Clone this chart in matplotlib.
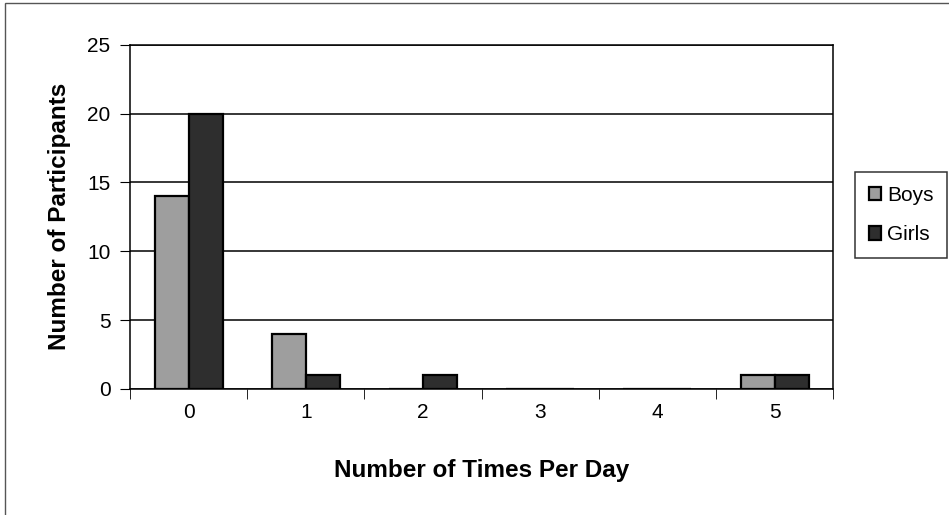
import matplotlib.pyplot as plt
import numpy as np
from matplotlib.patches import Rectangle

times = ['0', '1', '2', '3', '4', '5']
boys = [14, 4, 0, 0, 0, 1]
girls = [20, 1, 1, 0, 0, 1]

plt.rcParams['font.family'] = ['Liberation Sans', 'DejaVu Sans']

fig = plt.figure(figsize=(9.49, 5.15), dpi=100)
ax = fig.add_axes([0.137, 0.245, 0.741, 0.668])

x = np.arange(len(times))
w = 0.29
ax.bar(x - w / 2, boys, w, color='#9e9e9e', edgecolor='black', linewidth=1.6, label='Boys')
ax.bar(x + w / 2, girls, w, color='#2e2e2e', edgecolor='black', linewidth=1.6, label='Girls')

ax.set_xlim(-0.5, 5.5)
ax.set_ylim(0, 25)
ax.set_yticks([0, 5, 10, 15, 20, 25])
ax.yaxis.grid(True, color='black', linewidth=1.1)
ax.set_axisbelow(True)
ax.set_xticks(x)
ax.set_xticklabels(times)
ax.set_xticks(np.arange(-0.5, 6, 1), minor=True)
ax.tick_params(axis='x', which='major', length=0, labelsize=15, pad=10)
ax.tick_params(axis='x', which='minor', length=7, direction='out', color='black')
ax.tick_params(axis='y', length=7, direction='out', labelsize=15, pad=7)
for s in ax.spines.values():
    s.set_color('black')
    s.set_linewidth(1.1)

ax.set_xlabel('Number of Times Per Day', fontsize=17.5, fontweight='bold', labelpad=27)
ax.set_ylabel('Number of Participants', fontsize=17.5, fontweight='bold', labelpad=12)

leg = fig.legend(loc='upper left', bbox_to_anchor=(855 / 949, 1 - 172 / 515),
                 frameon=True, fancybox=False, edgecolor='black', fontsize=15,
                 handlelength=0.6, handleheight=0.6, handletextpad=0.3,
                 labelspacing=1.0, borderpad=0.65, borderaxespad=0)
leg.get_frame().set_linewidth(1.1)

# outer chart border
fig.patches.append(Rectangle((0.005, -0.01), 1.1, 1.004, transform=fig.transFigure,
                             fill=False, edgecolor='#555555', linewidth=1))

fig.savefig('out.png', dpi=100)
